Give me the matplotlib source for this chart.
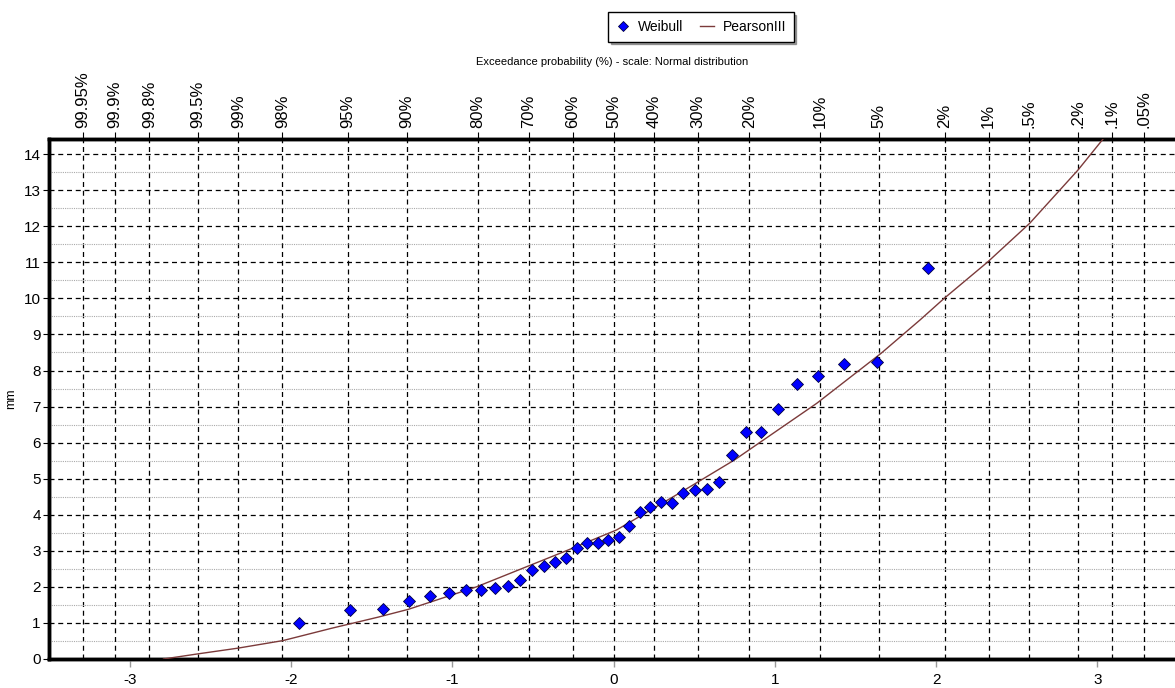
import matplotlib
matplotlib.use('Agg')
import matplotlib.pyplot as plt
from matplotlib.ticker import MultipleLocator
from statistics import NormalDist

plt.rcParams['font.family'] = ['Liberation Sans', 'DejaVu Sans']
plt.rcParams['axes.unicode_minus'] = False

weibull_mm = [1.00, 1.35, 1.39, 1.60, 1.76, 1.82, 1.90, 1.90, 1.98, 2.03,
              2.19, 2.48, 2.57, 2.70, 2.79, 3.08, 3.21, 3.21, 3.30, 3.39,
              3.68, 4.08, 4.21, 4.34, 4.33, 4.59, 4.68, 4.72, 4.90, 5.66,
              6.29, 6.29, 6.94, 7.62, 7.85, 8.19, 8.23, 10.84]

# fitted Pearson III curve (normal variate, mm)
pearson_z = [-2.79, -2.58, -2.33, -2.05, -1.75, -1.46, -1.27, -0.85, -0.31,
             0.02, 0.42, 0.75, 1.26, 1.66, 1.90, 2.05, 2.32, 2.58, 2.88, 3.03, 3.12]
pearson_mm = [0.0, 0.14, 0.30, 0.51, 0.85, 1.16, 1.38, 2.00, 2.97,
              3.58, 4.63, 5.52, 7.09, 8.48, 9.40, 10.0, 11.01, 12.08, 13.56, 14.39, 14.9]

# exceedance probability ticks on the top axis (%)
prob_ticks = [99.95, 99.9, 99.8, 99.5, 99, 98, 95, 90, 80, 70, 60, 50,
              40, 30, 20, 10, 5, 2, 1, 0.5, 0.2, 0.1, 0.05]
prob_labels = ['99.95%', '99.9%', '99.8%', '99.5%', '99%', '98%', '95%', '90%',
               '80%', '70%', '60%', '50%', '40%', '30%', '20%', '10%', '5%',
               '2%', '1%', '.5%', '.2%', '.1%', '.05%']

nd = NormalDist()
n = len(weibull_mm)
# Weibull plotting position: exceedance = rank / (n + 1), largest value has rank 1
weibull_z = [nd.inv_cdf(1 - (n - i) / (n + 1)) for i in range(n)]
prob_z = [nd.inv_cdf(1 - p / 100.0) for p in prob_ticks]

fig = plt.figure(figsize=(11.75, 6.88), dpi=100)
ax = fig.add_axes([49 / 1175, 29 / 688, 1129 / 1175, 520 / 688])
ax2 = ax.twiny()
ax2.set_zorder(ax.get_zorder() - 1)
ax.patch.set_visible(False)

xlim = (-3.5, 3.5)
ax.set_xlim(xlim)
ax2.set_xlim(xlim)
ax.set_ylim(0, 14.42)

# top probability axis with vertical dashed grid
ax2.set_xticks(prob_z)
ax2.set_xticklabels(prob_labels, rotation=90, fontsize=12)
ax2.tick_params(axis='x', length=5, width=0.8, pad=3, color='k')
ax2.xaxis.grid(True, linestyle=(0, (4, 3)), color='black', linewidth=0.9)
ax2.set_yticks([])
fig.text(612 / 1175, 1 - 62 / 688,
         'Exceedance probability (%) - scale: Normal distribution',
         fontsize=8, ha='center', va='center')

# horizontal grid
ax.yaxis.set_major_locator(MultipleLocator(1))
ax.yaxis.set_minor_locator(MultipleLocator(0.5))
ax.yaxis.grid(True, which='major', linestyle=(0, (4, 3)), color='black', linewidth=0.9)
ax.yaxis.grid(True, which='minor', linestyle=(0, (1, 1)), color='#aaaaaa', linewidth=0.8)
ax.tick_params(axis='y', which='major', length=4, width=0.8, labelsize=11, pad=2)
ax.tick_params(axis='y', which='minor', length=0)
ax.set_xticks([-3, -2, -1, 0, 1, 2, 3])
ax.tick_params(axis='x', length=6, width=1, color='#999999', labelsize=11, pad=4)
ax.set_ylabel('mm', fontsize=9, labelpad=5)

for a in (ax, ax2):
    for s in ('left', 'top', 'bottom'):
        a.spines[s].set_linewidth(2.5)
        a.spines[s].set_color('black')
    a.spines['right'].set_visible(False)

ax.plot(pearson_z, pearson_mm, color='#7b3a3a', linewidth=1.0,
        label='PearsonIII', zorder=3, clip_on=True)
ax.plot(weibull_z, weibull_mm, linestyle='none', marker='D', markersize=6.5,
        markerfacecolor='#0000ff', markeredgecolor='#000040', markeredgewidth=0.6,
        label='Weibull', zorder=4)

handles, labels = ax.get_legend_handles_labels()
leg = fig.legend(handles[::-1], labels[::-1], loc='center', ncol=2,
                 bbox_to_anchor=(701 / 1175, 1 - 27 / 688), fontsize=10,
                 frameon=True, fancybox=False, shadow=True, edgecolor='black',
                 handlelength=1.0, handletextpad=0.6, columnspacing=1.2,
                 borderpad=0.55, markerscale=0.8)
leg.get_frame().set_linewidth(1.0)

fig.savefig('out.png', dpi=100)
